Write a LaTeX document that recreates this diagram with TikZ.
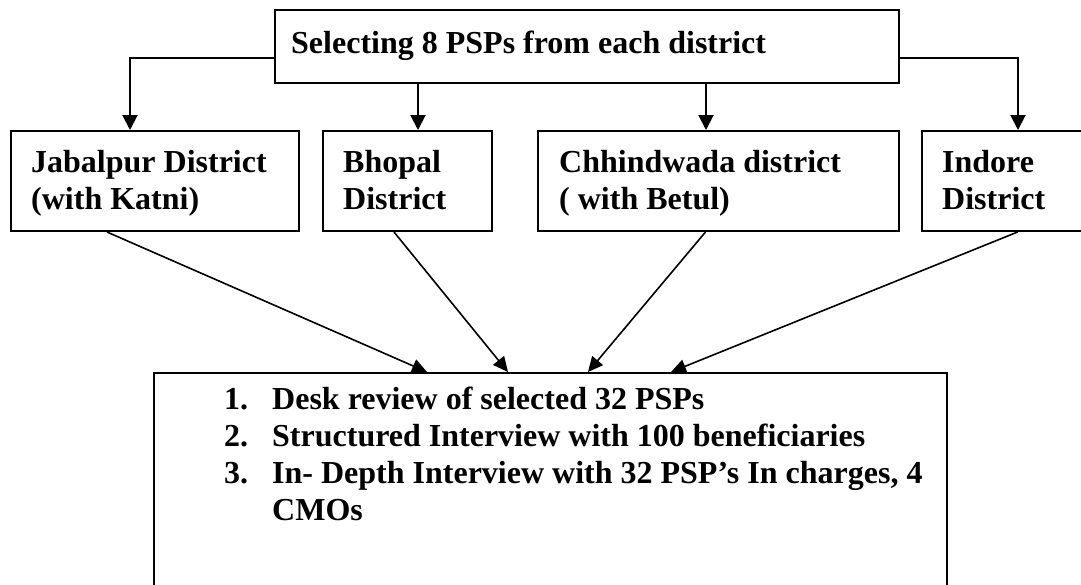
\documentclass[tikz,border=0pt]{standalone}
\usepackage{fontspec}
\setmainfont{Liberation Serif}
\usetikzlibrary{arrows.meta}
\begin{document}
\begin{tikzpicture}[x=1pt,y=-1pt,
  box/.style={draw, line width=2pt, inner sep=0pt, anchor=north west},
  txt/.style={anchor=base west, inner sep=0pt, font=\fontsize{32}{37}\selectfont\bfseries},
  arr/.style={line width=2pt, -{Triangle[length=15pt,width=15pt]}},
  darr/.style={line width=1.6pt, -{Triangle[length=15pt,width=14pt]}}]
\useasboundingbox (0,0) rectangle (1081,584);
\clip (0,0) rectangle (1081,584);
% boxes
\node[box, minimum width=624pt, minimum height=73pt] (top) at (274,9) {};
\node[box, minimum width=288pt, minimum height=100pt] (jab) at (9.7,130) {};
\node[box, minimum width=169pt, minimum height=100pt] (bho) at (322,130) {};
\node[box, minimum width=361pt, minimum height=100pt] (chh) at (537,130) {};
\node[box, minimum width=220pt, minimum height=100pt] (ind) at (921,130) {};
\node[box, minimum width=793pt, minimum height=260pt] (bot) at (153,372) {};
% texts
\node[txt] (t0) at (291,53) {Selecting 8 PSPs from each district};
\node[txt] (j1) at (31,172) {Jabalpur District};
\node[txt] (j2) at (31,209) {(with Katni)};
\node[txt] (b1) at (343,172) {Bhopal};
\node[txt] (b2) at (343,209) {District};
\node[txt] (c1) at (559,172) {Chhindwada district};
\node[txt] (c2) at (559,209) {( with Betul)};
\node[txt] (i1) at (942,172) {Indore};
\node[txt] (i2) at (942,209) {District};
\node[txt] (n1) at (224,409) {1.};
\node[txt] (l1) at (272,409) {Desk review of selected 32 PSPs};
\node[txt] (n2) at (224,446) {2.};
\node[txt] (l2) at (272,446) {Structured Interview with 100 beneficiaries};
\node[txt] (n3) at (224,483) {3.};
\node[txt] (l3) at (272,483) {In- Depth Interview with 32 PSP’s In charges, 4};
\node[txt] (l4) at (272,520) {CMOs};
% helper coordinates
\coordinate (jL) at (130,57.7);
\coordinate (jR) at (1018,57.7);
\coordinate (xb) at (418,0);
\coordinate (xc) at (706,0);
\coordinate (sj) at (107,0);
\coordinate (sb) at (394,0);
\coordinate (sc) at (705.5,0);
\coordinate (si) at (1017.6,0);
\coordinate (ej) at (427,0);
\coordinate (eb) at (508,0);
\coordinate (ec) at (588,0);
\coordinate (ei) at (671,0);
% top connectors
\draw[arr] (top.west |- jL) -- (jL) -- (jL |- jab.north);
\draw[arr] (top.east |- jR) -- (jR) -- (jR |- ind.north);
\draw[arr] (top.south -| xb) -- (bho.north -| xb);
\draw[arr] (top.south -| xc) -- (chh.north -| xc);
% converging connectors
\draw[darr] (jab.south -| sj) -- (bot.north -| ej);
\draw[darr] (bho.south -| sb) -- (bot.north -| eb);
\draw[darr] (chh.south -| sc) -- (bot.north -| ec);
\draw[darr] (ind.south -| si) -- (bot.north -| ei);
\end{tikzpicture}
\end{document}
